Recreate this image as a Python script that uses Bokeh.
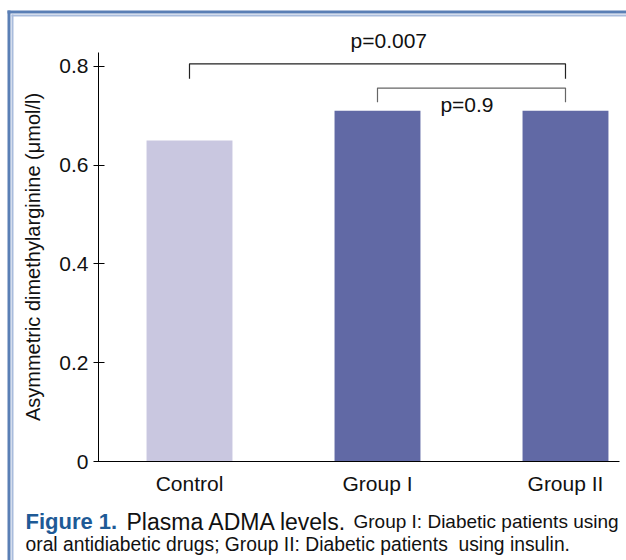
from bokeh.plotting import figure
from bokeh.models import Range1d, FixedTicker, Label, BoxAnnotation, ColumnDataSource
from bokeh.embed import file_html
from bokeh.resources import INLINE

# ---- data ----
categories = ["Control", "Group I", "Group II"]
adma = [0.65, 0.71, 0.71]
bar_colors = ["#c9c7e0", "#6169a5", "#6169a5"]
y_ticks = [0, 0.2, 0.4, 0.6, 0.8]
y_tick_labels = ["0", "0.2", "0.4", "0.6", "0.8"]
comparisons = [(0, 2), (1, 2)]
p_labels = ["p=0.007", "p=0.9"]
bracket_top = [0.805, 0.756]
bracket_bottom = [0.775, 0.727]
p_label_x = [1.06, 1.476]
p_label_y = [0.852, 0.7227]
bracket_colors = ["#222222", "#666666"]

FONT = "Liberation Sans"
W, H = 626, 560

# frame covers the whole canvas; axes are placed at fixed data locations
p = figure(width=W, height=H, output_backend="svg", toolbar_location=None,
           x_range=Range1d(-1.0053, 2.3245), y_range=Range1d(-0.2004, 0.9332),
           min_border=0)
p.outline_line_color = None
p.grid.visible = False
p.background_fill_color = "white"
p.border_fill_color = "white"

xs = list(range(len(categories)))
src = ColumnDataSource(dict(x=xs, top=adma, color=bar_colors))
p.vbar(x="x", top="top", bottom=0, width=0.457, color="color", line_color=None, source=src)

# significance brackets
bx, by = [], []
for (a, b), t, bt in zip(comparisons, bracket_top, bracket_bottom):
    bx.append([a, a, b, b])
    by.append([bt, t, t, bt])
p.multi_line(xs=bx, ys=by, line_color=bracket_colors, line_width=1.2)

for txt, lx, ly in zip(p_labels, p_label_x, p_label_y):
    p.add_layout(Label(x=lx, y=ly, text=txt, text_align="center", text_baseline="alphabetic",
                       text_font=FONT, text_font_size="21px", text_color="#111111"))

AX_X0 = -0.484   # x where the y axis sits
AX_X1 = 2.287    # right end of x axis line
AX_Y1 = 0.828    # top end of y axis line

# axes
xa = p.xaxis[0]
xa.fixed_location = 0
xa.bounds = (AX_X0, AX_X1)
xa.ticker = FixedTicker(ticks=xs)
xa.major_label_overrides = {i: c for i, c in enumerate(categories)}
xa.major_tick_in = 0
xa.major_tick_out = 0
xa.minor_tick_line_color = None
xa.major_label_standoff = 10
xa.major_label_text_font = FONT
xa.major_label_text_font_size = "21px"
xa.major_label_text_color = "#111111"
xa.axis_line_color = "black"

ya = p.yaxis[0]
ya.fixed_location = AX_X0
ya.bounds = (0, AX_Y1)
ya.ticker = FixedTicker(ticks=y_ticks)
ya.major_label_overrides = {t: l for t, l in zip(y_ticks, y_tick_labels)}
ya.major_tick_in = 6
ya.major_tick_out = 5
ya.minor_tick_line_color = None
ya.major_label_standoff = 5
ya.major_label_text_font = FONT
ya.major_label_text_font_size = "21px"
ya.major_label_text_color = "#111111"
ya.axis_line_color = "black"
ya.axis_label = "Asymmetric dimethylarginine (μmol/l)"
ya.axis_label_text_font = FONT
ya.axis_label_text_font_size = "20px"
ya.axis_label_text_font_style = "normal"
ya.axis_label_text_color = "#111111"
ya.axis_label_standoff = 12


def sy(cy):
    return H - cy


# figure frame borders (canvas px, screen units)
def border(l, r, t, b, color):
    p.add_layout(BoxAnnotation(left=l, right=r, top=sy(t), bottom=sy(b),
                               left_units="screen", right_units="screen",
                               top_units="screen", bottom_units="screen",
                               fill_color=color, fill_alpha=1, line_color=None, level="overlay"))

border(7, 10, 10, H, "#5a7fb5")
border(7, W, 10, 13, "#5a7fb5")
border(11, 13, 14, H, "#a9bcdc")
border(11, W, 14, 16, "#a9bcdc")

# caption
cap = [
    ("Figure 1.", 25, 521, "22px", "bold", "#1e5a96"),
    ("Plasma ADMA levels.", 126, 521, "23px", "normal", "#111111"),
    ("Group I: Diabetic patients using", 353, 521, "19px", "normal", "#111111"),
    ("oral antidiabetic drugs; Group II: Diabetic patients\u00a0 using insulin.", 25, 544, "19.3px", "normal", "#111111"),
]
for txt, cx, cy, fs, st, col in cap:
    p.add_layout(Label(x=cx, y=sy(cy), x_units="screen", y_units="screen", text=txt,
                       text_align="left", text_baseline="alphabetic", text_font=FONT,
                       text_font_size=fs, text_font_style=st, text_color=col))

open("out.html", "w").write(file_html(p, INLINE))
